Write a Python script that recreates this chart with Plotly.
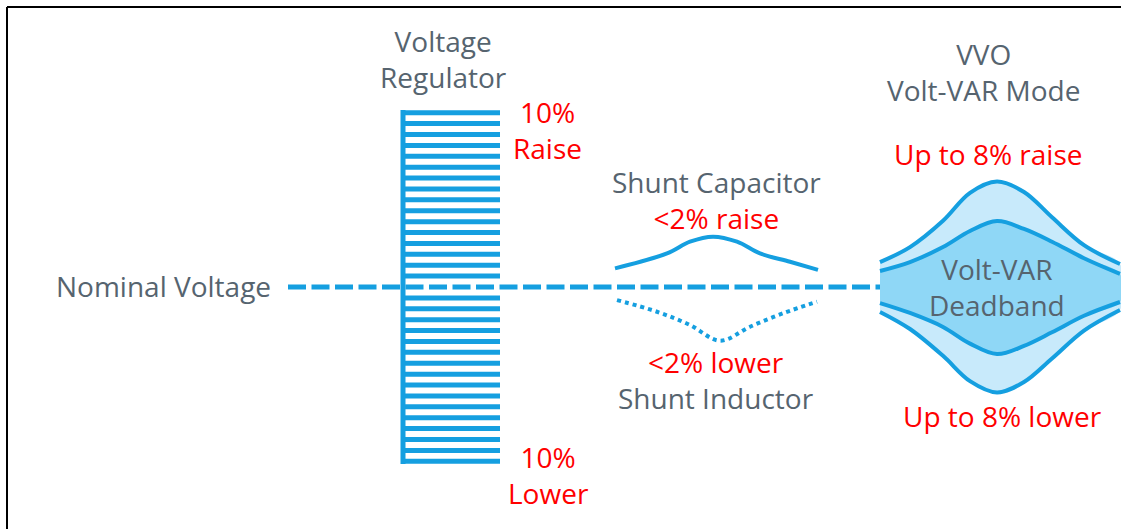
import plotly.graph_objects as go

# ---------------- data ----------------
# vertical axis: voltage deviation in % of nominal; horizontal axis: layout position
regulator_taps = [k for k in range(-16, 17) if k != 0]
tap_step_pct = 0.625                     # 10 % / 16 steps
regulator_bar_x = [403, 500]
regulator_span = [-10.15, 10.15]

nominal_x = [288, 883]

cap_x = [615, 667, 690, 713, 737, 760, 790, 818]
cap_y = [1.07, 1.93, 2.60, 2.89, 2.60, 1.93, 1.45, 0.98]

ind_x = [617, 657, 690, 720, 750, 783, 817]
ind_y = [-0.75, -1.42, -2.18, -3.08, -2.28, -1.51, -0.84]

vvo_x = [880, 910, 943, 970, 997, 1024, 1052, 1084, 1120]
vvo_outer_up = [1.43, 2.29, 3.80, 5.40, 6.05, 5.45, 4.00, 2.40, 1.32]
vvo_inner_up = [0.92, 1.43, 2.29, 3.21, 3.78, 3.33, 2.60, 1.65, 0.75]
vvo_inner_lo = [-0.92, -1.49, -2.29, -3.25, -3.85, -3.38, -2.60, -1.65, -0.86]
vvo_outer_lo = [-1.43, -2.41, -3.95, -5.40, -6.05, -5.45, -4.10, -2.50, -1.32]

RED_OPEN = "<span style='color:#ff0000'>"
labels = [
    ("Voltage<br>Regulator", 443.5, 13.08, "center"),
    (RED_OPEN + "10%<br>Raise</span>", 547, 9.01, "center"),
    (RED_OPEN + "10%<br>Lower</span>", 548, -10.79, "center"),
    ("Shunt Capacitor<br>" + RED_OPEN + "&lt;2% raise</span>", 716, 4.99, "center"),
    (RED_OPEN + "&lt;2% lower</span><br>Shunt Inductor", 716, -5.36, "center"),
    ("VVO<br>Volt-VAR Mode", 983, 12.34, "center"),
    (RED_OPEN + "Up to 8% raise</span>", 988, 7.63, "center"),
    ("Volt-VAR<br>Deadband", 997, 0.0, "center"),
    (RED_OPEN + "Up to 8% lower</span>", 1002, -7.40, "center"),
    ("Nominal Voltage", 273, 0.06, "right"),
]

# ---------------- styling ----------------
W, H = 1121, 529
PX_PER_PCT = 17.43
NOMINAL_PX = 287                 # pixel row of nominal voltage
FRAME = 7                        # frame line offset (px)
BLUE = "#159fe0"
LIGHT = "#c8eafb"
MID = "#8fd7f6"
GREY = "#56646f"
FONT = "Open Sans"

fig = go.Figure()

# nominal dashed line
fig.add_trace(go.Scatter(x=nominal_x, y=[0, 0], mode="lines",
                         line=dict(color=BLUE, width=5, dash="18px,5.5px")))

# voltage regulator taps
bx, by = [], []
for k in regulator_taps:
    bx += [regulator_bar_x[0], regulator_bar_x[1], None]
    by += [k * tap_step_pct, k * tap_step_pct, None]
fig.add_trace(go.Scatter(x=bx, y=by, mode="lines", line=dict(color=BLUE, width=5)))
fig.add_trace(go.Scatter(x=[regulator_bar_x[0]] * 2, y=regulator_span, mode="lines",
                         line=dict(color=BLUE, width=5)))

# shunt capacitor / inductor
fig.add_trace(go.Scatter(x=cap_x, y=cap_y, mode="lines",
                         line=dict(color=BLUE, width=4, shape="spline")))
fig.add_trace(go.Scatter(x=ind_x, y=ind_y, mode="lines",
                         line=dict(color=BLUE, width=4, dash="dot", shape="spline")))

# VVO envelope fills
fig.add_trace(go.Scatter(x=vvo_x + vvo_x[::-1], y=vvo_outer_up + vvo_outer_lo[::-1],
                         mode="lines", fill="toself", fillcolor=LIGHT,
                         line=dict(width=0, color=LIGHT, shape="spline")))
fig.add_trace(go.Scatter(x=vvo_x + vvo_x[::-1], y=vvo_inner_up + vvo_inner_lo[::-1],
                         mode="lines", fill="toself", fillcolor=MID,
                         line=dict(width=0, color=MID, shape="spline")))
for ys in (vvo_outer_up, vvo_inner_up, vvo_inner_lo, vvo_outer_lo):
    fig.add_trace(go.Scatter(x=vvo_x, y=ys, mode="lines",
                             line=dict(color=BLUE, width=4, shape="spline")))

ann = []
for t, x, y, xa in labels:
    ann.append(dict(text=t, x=x, y=y, xanchor=xa, yanchor="middle", showarrow=False,
                    align="center", font=dict(family=FONT, size=28, color=GREY)))

fig.update_layout(
    width=W, height=H, margin=dict(l=0, r=0, t=0, b=0),
    paper_bgcolor="white", plot_bgcolor="white", showlegend=False,
    hovermode=False,
    xaxis=dict(range=[0, W], visible=False, fixedrange=True),
    yaxis=dict(range=[(NOMINAL_PX - H) / PX_PER_PCT, NOMINAL_PX / PX_PER_PCT],
               visible=False, fixedrange=True),
    annotations=ann,
    shapes=[
        dict(type="line", xref="paper", yref="paper", x0=FRAME / W, x1=1,
             y0=1 - FRAME / H, y1=1 - FRAME / H, line=dict(color="black", width=2)),
        dict(type="line", xref="paper", yref="paper", x0=FRAME / W, x1=FRAME / W,
             y0=0, y1=1 - FRAME / H, line=dict(color="black", width=2)),
    ],
)

fig.write_html(
    "out.html",
    config={"displayModeBar": False, "staticPlot": True},
    post_script="document.body.style.margin='0';document.body.style.overflow='hidden';",
)
